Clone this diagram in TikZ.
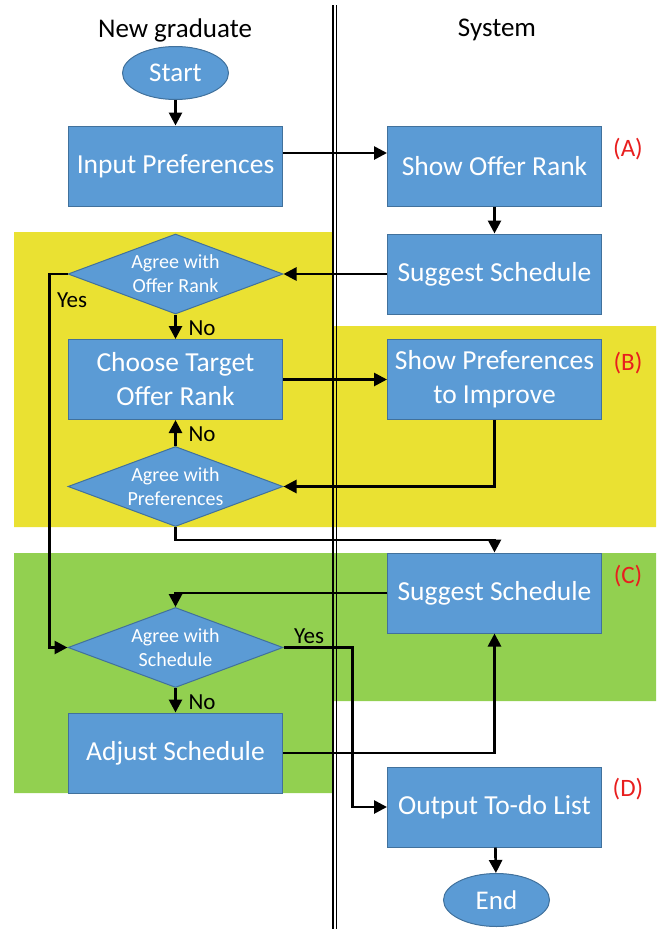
\documentclass[tikz,border=0pt]{standalone}
\usepackage{fontspec}
\setmainfont{Carlito}
\usepackage{tikz}
\usetikzlibrary{positioning,arrows.meta,shapes.geometric}
\usepackage{xcolor}

\definecolor{boxblue}{RGB}{91,155,213}
\definecolor{boxedge}{RGB}{65,113,156}
\definecolor{laneyellow}{RGB}{234,225,50}
\definecolor{lanegreen}{RGB}{146,208,80}
\definecolor{tagred}{RGB}{232,30,30}

\tikzset{
  procbox/.style={rectangle, draw=boxedge, line width=1pt, fill=boxblue, text=white,
    minimum width=214pt, minimum height=80pt, inner sep=0pt, align=center,
    font=\fontsize{27.5}{34}\selectfont},
  choice/.style={diamond, draw=boxedge, line width=1pt, fill=boxblue, text=white,
    shape aspect=2.7, minimum width=215pt, minimum height=80pt, inner sep=0pt,
    align=center, font=\fontsize{20}{24}\selectfont},
  termin/.style={ellipse, draw=boxedge, line width=1pt, fill=boxblue, text=white,
    minimum width=106pt, minimum height=53pt, inner sep=0pt,
    font=\fontsize{27}{30}\selectfont},
  flow/.style={line width=2.7pt, -{Triangle[length=13pt,width=13pt]}},
  lbl/.style={font=\fontsize{23}{26}\selectfont},
  tag/.style={text=tagred, font=\fontsize{25}{28}\selectfont},
  lanehead/.style={font=\fontsize{27}{30}\selectfont}
}

\begin{document}
\begin{tikzpicture}[x=1pt, y=-1pt]
  \useasboundingbox (0,0) rectangle (668,929);

  % Phase backgrounds
  \fill[laneyellow] (14,232) -- (333,232) -- (333,326) -- (656,326)
    -- (656,527) -- (14,527) -- cycle;
  \fill[lanegreen] (14,553) -- (656,553) -- (656,701) -- (333,701)
    -- (333,793) -- (14,793) -- cycle;

  % Swimlane divider
  \draw[line width=1.2pt] (333,5) -- (333,929);
  \draw[line width=1.2pt] (336.5,5) -- (336.5,929);

  % Lane headings
  \node[lanehead] (headgrad) at (175,30) {New graduate};
  \node[lanehead] (headsys) at (497,30) {System};

  % New graduate lane
  \node[termin] (start) at (175.5,73) {Start};
  \node[procbox] (inpref) at (175.5,166) {Input Preferences};
  \node[choice] (agreerank) at (175.5,274) {Agree with\\Offer Rank};
  \node[procbox] (choose) at (175.5,379.5) {Choose Target\\Offer Rank};
  \node[choice] (agreepref) at (175.5,486.5) {Agree with\\Preferences};
  \node[choice] (agreesched) at (175.5,647.5) {Agree with\\Schedule};
  \node[procbox] (adjust) at (175.5,753) {Adjust Schedule};

  % System lane
  \node[procbox] (offer) at (494.5,166) {Show Offer Rank};
  \node[procbox] (sugg1) at (494.5,274) {Suggest Schedule};
  \node[procbox] (showpref) at (494.5,379.5) {Show Preferences\\to Improve};
  \node[procbox] (sugg2) at (494.5,593) {Suggest Schedule};
  \node[procbox] (output) at (494.5,807) {Output To-do List};
  \node[termin] (finish) at (496.5,900) {End};

  % Phase tags
  \node[tag] (tagA) at (628,149) {(A)};
  \node[tag] (tagB) at (628,363) {(B)};
  \node[tag] (tagC) at (628,576) {(C)};
  \node[tag] (tagD) at (628,789) {(D)};

  % Connectors
  \draw[flow] (start) -- (inpref);
  \draw[flow] ([yshift=13pt]inpref.east) -- ([yshift=13pt]offer.west);
  \draw[flow] (offer) -- (sugg1);
  \draw[flow] (sugg1) -- (agreerank);
  \draw[flow] (agreerank.west) -- ++(-18,0) |- (agreesched.west);
  \draw[flow] (agreerank) -- (choose);
  \draw[flow] (choose) -- (showpref);
  \draw[flow] (showpref.south) |- (agreepref.east);
  \draw[flow] (agreepref) -- (choose);
  \draw[flow] (agreepref.south) -- ++(0,13) -| (sugg2.north);
  \draw[flow] (sugg2.west) -| (agreesched.north);
  \draw[flow] (agreesched) -- (adjust);
  \draw[flow] (agreesched.east) -- ++(69,0) |- (output.west);
  \draw[flow] (adjust.east) -| (sugg2.south);
  \draw[flow] (output) -- (finish);

  % Branch labels
  \node[lbl] (yesrank) at (72,300) {Yes};
  \node[lbl] (norank) at (202,328) {No};
  \node[lbl] (nopref) at (202,434) {No};
  \node[lbl] (yessched) at (309,636) {Yes};
  \node[lbl] (nosched) at (202,702) {No};
\end{tikzpicture}
\end{document}
